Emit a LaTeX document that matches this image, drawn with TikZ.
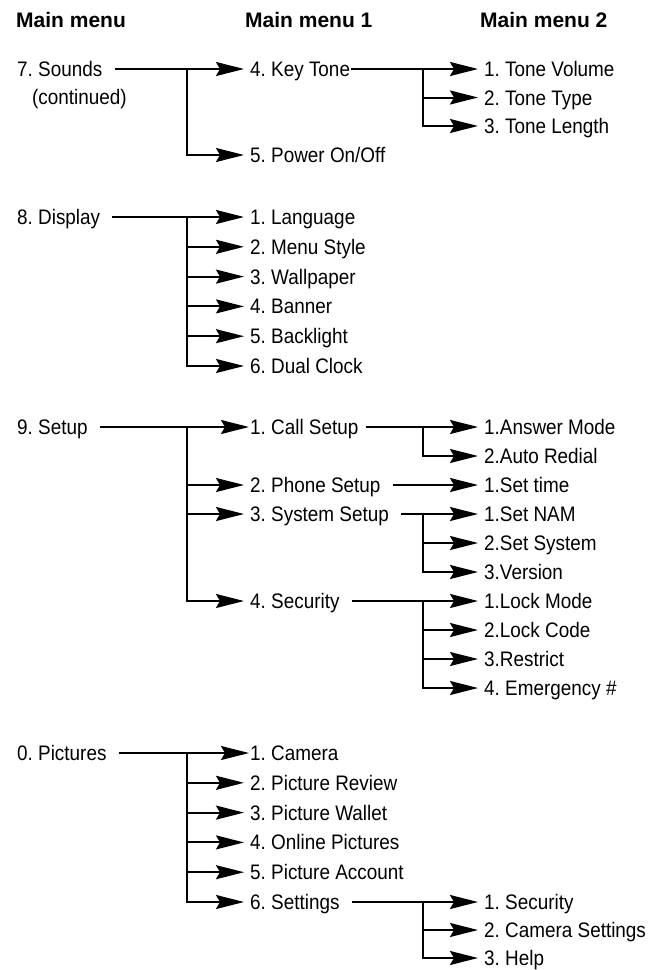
\documentclass[tikz,border=0pt]{standalone}
\usepackage{fontspec}
\setmainfont{Liberation Sans}[FakeStretch=0.9]
\newfontfamily\headfont{Liberation Sans}
\usetikzlibrary{arrows.meta, positioning}
\frenchspacing

\tikzset{
    entry/.style={anchor=west, inner xsep=6pt, inner ysep=0pt, text height=15pt, text depth=0pt, font=\fontsize{21}{21}\selectfont},
    tight/.style={inner xsep=1pt},
    heading/.style={anchor=west, inner sep=0pt, font=\headfont\bfseries\fontsize{21}{21}\selectfont},
    link/.style={line width=2pt},
    feed/.style={link, shorten <=6pt},
    arr/.style={link, -{Stealth[length=28pt, width=14pt, inset=4pt]}}
}

\begin{document}
\begin{tikzpicture}[x=1pt, y=-1pt]
    \useasboundingbox (0,0) rectangle (653,970);

    % Intestazioni
    \node[heading] (h0) at (16,20) {Main menu};
    \node[heading] (h1) at (245,20) {Main menu 1};
    \node[heading] (h2) at (480,20) {Main menu 2};

    % 7. Sounds
    \node[entry] (snd) at (11,69) {7. Sounds};
    \node[entry] (cont) at (26,97) {(continued)};
    \node[entry] (key) at (244,69) {4. Key Tone};
    \node[entry] (pwr) at (244,155) {5. Power On/Off};
    \coordinate (b7) at (187,69);
    \draw[feed] (snd.east) -- (b7);
    \draw[arr] (b7) -- (key.west);
    \draw[arr] (b7) |- (pwr.west);
    \coordinate (bk) at (423,69);
    \draw[link, shorten <=-5pt] (key.east) -- (bk);
    \foreach \t [count=\i from 0] in {1. Tone Volume, 2. Tone Type, 3. Tone Length} {
        \node[entry] (k\i) at (478,{69+28.5*\i}) {\t};
        \draw[arr] (bk) |- (k\i.west);
    }

    % 8. Display
    \node[entry] (disp) at (11,217) {8. Display};
    \coordinate (b8) at (187,217);
    \draw[feed] (disp.east) -- (b8);
    \foreach \t [count=\i from 0] in {1. Language, 2. Menu Style, 3. Wallpaper, 4. Banner, 5. Backlight, 6. Dual Clock} {
        \node[entry] (d\i) at (244,{217+29.8*\i}) {\t};
        \draw[arr] (b8) |- (d\i.west);
    }

    % 9. Setup
    \node[entry] (set) at (11,427) {9. Setup};
    \node[entry, tight] (call) at (249,427) {1. Call Setup};
    \node[entry] (phone) at (244,485) {2. Phone Setup};
    \node[entry] (sys) at (244,514) {3. System Setup};
    \node[entry] (sec) at (244,601) {4. Security};
    \coordinate (b9) at (187,427);
    \draw[feed] (set.east) -- (b9);
    \foreach \n in {call, phone, sys, sec}
        \draw[arr] (b9) |- (\n.west);

    \coordinate (bc) at (423,427);
    \draw[feed] (call.east) -- (bc);
    \foreach \t [count=\i from 0] in {1.Answer Mode, 2.Auto Redial} {
        \node[entry] (c\i) at (478,{427+29*\i}) {\t};
        \draw[arr] (bc) |- (c\i.west);
    }
    \node[entry] (time) at (478,485) {1.Set time};
    \draw[arr, shorten <=6pt] (phone.east) -- (time.west);
    \coordinate (bs) at (423,514);
    \draw[feed] (sys.east) -- (bs);
    \foreach \t [count=\i from 0] in {1.Set NAM, 2.Set System, 3.Version} {
        \node[entry] (s\i) at (478,{514+29*\i}) {\t};
        \draw[arr] (bs) |- (s\i.west);
    }
    \coordinate (bl) at (423,601);
    \draw[feed] (sec.east) -- (bl);
    \foreach \t [count=\i from 0] in {1.Lock Mode, 2.Lock Code, 3.Restrict, 4. Emergency \#} {
        \node[entry] (l\i) at (478,{601+29*\i}) {\t};
        \draw[arr] (bl) |- (l\i.west);
    }

    % 0. Pictures
    \node[entry] (pic) at (11,753) {0. Pictures};
    \coordinate (b0) at (187,753);
    \draw[feed] (pic.east) -- (b0);
    \node[entry, tight] (p0) at (249,753) {1. Camera};
    \draw[arr] (b0) -- (p0.west);
    \foreach \t [count=\i] in {2. Picture Review, 3. Picture Wallet, 4. Online Pictures, 5. Picture Account, 6. Settings} {
        \node[entry] (p\i) at (244,{753+29.8*\i}) {\t};
        \draw[arr] (b0) |- (p\i.west);
    }
    \coordinate (bp) at (423,902);
    \draw[feed] (p5.east) -- (bp);
    \foreach \t [count=\i from 0] in {1. Security, 2. Camera Settings, 3. Help} {
        \node[entry] (q\i) at (478,{902+28*\i}) {\t};
        \draw[arr] (bp) |- (q\i.west);
    }

\end{tikzpicture}
\end{document}
